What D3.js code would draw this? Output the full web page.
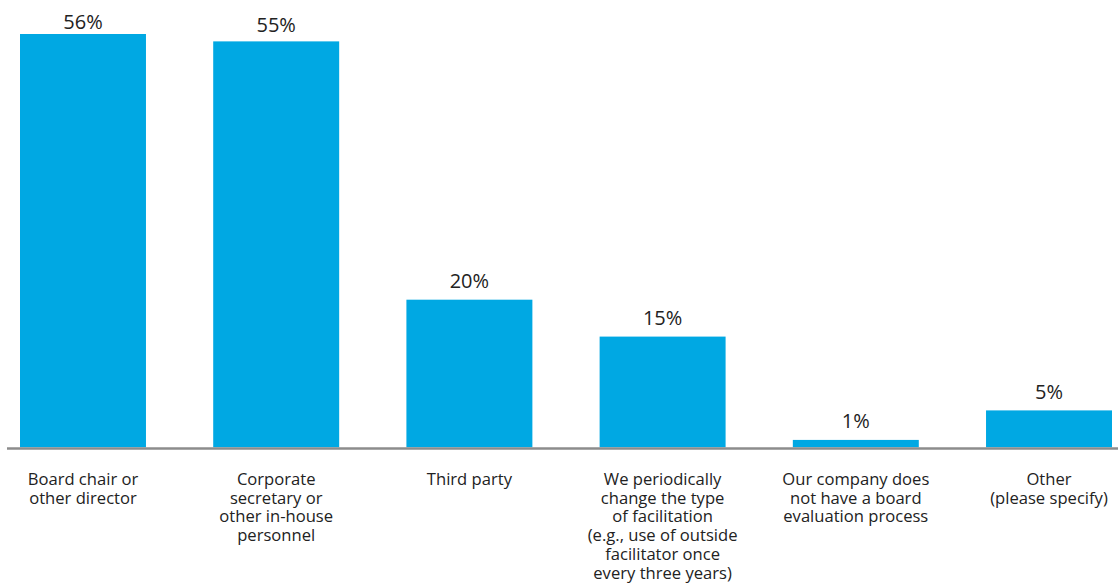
<!DOCTYPE html>
<html><head><meta charset="utf-8">
<script src="https://cdn.jsdelivr.net/npm/d3@7"></script>
<style>body{margin:0;background:#fff}svg{display:block}</style>
</head><body><svg id="c" width="1118" height="583"></svg>
<script>
const categories = [
  ["Board chair or","other director"],
  ["Corporate","secretary or","other in-house","personnel"],
  ["Third party"],
  ["We periodically","change the type","of facilitation","(e.g., use of outside","facilitator once","every three years)"],
  ["Our company does","not have a board","evaluation process"],
  ["Other","(please specify)"]
];
const values = [56, 55, 20, 15, 1, 5];
const valueLabels = ["56%","55%","20%","15%","1%","5%"];

const svg = d3.select("#c");
const font = "'Open Sans', sans-serif";
const baseY = 447.3;
const x = d3.scaleBand().domain(d3.range(values.length)).range([20, 1112]).paddingInner(0.348).paddingOuter(0);
const y = d3.scaleLinear().domain([0, 56]).range([baseY, 34]);

svg.selectAll("rect.bar").data(values).join("rect").attr("class","bar")
  .attr("x",(d,i)=>x(i)).attr("width",x.bandwidth())
  .attr("y",d=>y(d)).attr("height",d=>baseY-y(d)).attr("fill","#00a8e3");

svg.append("line").attr("x1",7).attr("x2",1118).attr("y1",baseY+1.2).attr("y2",baseY+1.2)
  .attr("stroke","#8c8c8c").attr("stroke-width",2.4);

svg.selectAll("text.val").data(values).join("text").attr("class","val")
  .attr("x",(d,i)=>x(i)+x.bandwidth()/2)
  .attr("y",d=>{ const t = y(d); return t - Math.min(11.5, Math.max(4.5, (t - 34) * 0.6 + 5)); })
  .attr("text-anchor","middle").attr("font-family",font).attr("font-size",20).attr("fill","#222")
  .text((d,i)=>valueLabels[i]);

const g = svg.selectAll("text.cat").data(categories).join("text").attr("class","cat")
  .attr("text-anchor","middle").attr("font-family",font).attr("font-size",16.6).attr("fill","#222");
g.each(function(lines,i){
  d3.select(this).selectAll("tspan").data(lines).join("tspan")
    .attr("x",x(i)+x.bandwidth()/2).attr("y",(l,j)=>485+j*18.7).text(l=>l);
});
</script></body></html>
